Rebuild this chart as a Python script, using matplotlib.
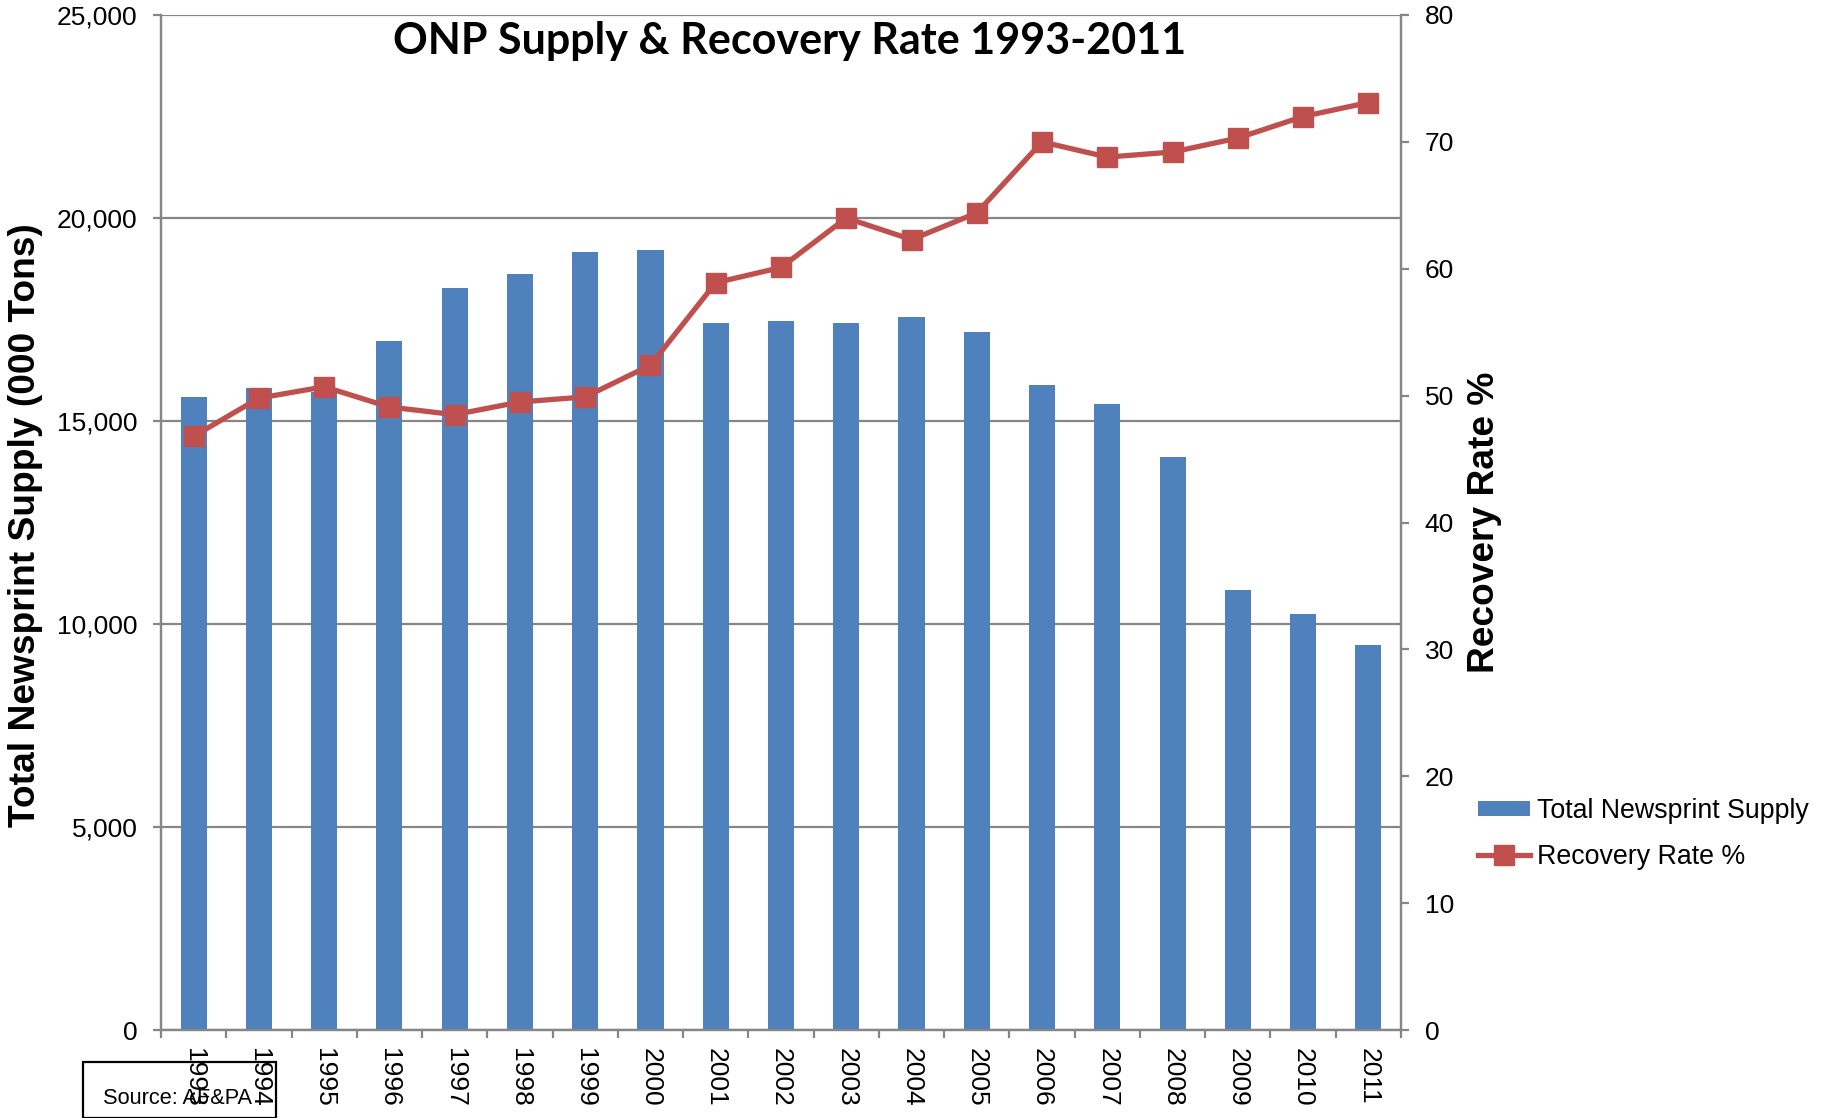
import matplotlib
matplotlib.use("Agg")
import matplotlib.pyplot as plt
from matplotlib.patches import Rectangle, Patch
from matplotlib.lines import Line2D
import numpy as np

years = ["1993", "1994", "1995", "1996", "1997", "1998", "1999", "2000", "2001", "2002",
         "2003", "2004", "2005", "2006", "2007", "2008", "2009", "2010", "2011"]
supply = [15580, 15810, 15720, 16980, 18270, 18610, 19160, 19220, 17410, 17470,
          17410, 17550, 17180, 15890, 15410, 14120, 10830, 10250, 9480]
recovery = [46.8, 49.8, 50.7, 49.1, 48.5, 49.5, 49.9, 52.4, 58.9, 60.1,
            64.0, 62.3, 64.4, 70.0, 68.8, 69.2, 70.3, 72.0, 73.1]
left_ticks = [0, 5000, 10000, 15000, 20000, 25000]
right_ticks = [0, 10, 20, 30, 40, 50, 60, 70, 80]

W, H = 1822, 1118
fig = plt.figure(figsize=(W / 100, H / 100), dpi=100)
plt.rcParams['font.family'] = ['Liberation Sans', 'DejaVu Sans']

x0, x1, ytop, ybot = 161, 1401, 15, 1030
ax = fig.add_axes([x0 / W, 1 - ybot / H, (x1 - x0) / W, (ybot - ytop) / H])
ax2 = ax.twinx()

gray = '#868686'
blue = '#4F81BD'
red = '#C0504D'

xs = np.arange(len(years))
ax.bar(xs, supply, width=0.4, color=blue, zorder=2)
ax.set_xlim(-0.5, len(years) - 0.5)
ax.set_ylim(0, 25000)
ax.set_yticks(left_ticks)
ax.set_yticklabels([f"{v:,}" for v in left_ticks])
ax.set_axisbelow(True)
ax.grid(axis='y', color=gray, linewidth=1.6)
ax.set_xticks(xs)
ax.set_xticklabels(years, rotation=-90)
ax.set_xticks(np.arange(len(years) + 1) - 0.5, minor=True)
ax.tick_params(axis='x', which='major', length=0, pad=13, labelsize=19)
ax.tick_params(axis='x', which='minor', length=6, width=1.6, color=gray, direction='out')
ax.tick_params(axis='y', length=6, width=1.6, color=gray, direction='out', pad=11, labelsize=19)

ax2.plot(xs, recovery, color=red, linewidth=3.8, marker='s', markersize=14,
         markerfacecolor=red, markeredgecolor=red, zorder=3)
ax2.set_ylim(0, 80)
ax2.set_yticks(right_ticks)
ax2.tick_params(axis='y', length=6, width=1.6, color=gray, direction='out', pad=11, labelsize=19)

for a in (ax, ax2):
    a.spines['top'].set_visible(False)
    for s in ('left', 'right', 'bottom'):
        a.spines[s].set_color(gray)
        a.spines[s].set_linewidth(1.6)

fig.text(790 / W, 1 - 41 / H, "ONP Supply & Recovery Rate 1993-2011", ha='center', va='center',
         fontsize=31, fontweight='bold', family=['Lato', 'DejaVu Sans'])
fig.text(26 / W, 1 - 525 / H, "Total Newsprint Supply (000 Tons)", ha='center', va='center',
         rotation=90, fontsize=26.7, fontweight='bold')
fig.text(1484 / W, 1 - 522 / H, "Recovery Rate %", ha='center', va='center',
         rotation=90, fontsize=26.7, fontweight='bold')

handles = [Patch(facecolor=blue, edgecolor='none'),
           Line2D([0], [0], color=red, linewidth=3.8, marker='s', markersize=14,
                  markerfacecolor=red, markeredgecolor=red)]
fig.legend(handles, ["Total Newsprint Supply", "Recovery Rate %"], loc='center left',
           bbox_to_anchor=(1478 / W, 1 - 834 / H), frameon=False, fontsize=19.3,
           borderpad=0, borderaxespad=0, handlelength=1.95, handleheight=0.5,
           handletextpad=0.25, labelspacing=0.75)

fig.patches.append(Rectangle((83 / W, 0), (276 - 83) / W, (H - 1073) / H + 0.01,
                             transform=fig.transFigure, fill=False, edgecolor='black',
                             linewidth=1.6, clip_on=False))
fig.text(103 / W, 1 - 1098 / H, "Source: AF&PA", ha='left', va='center', fontsize=15.7)

fig.savefig("out.png", dpi=100)
